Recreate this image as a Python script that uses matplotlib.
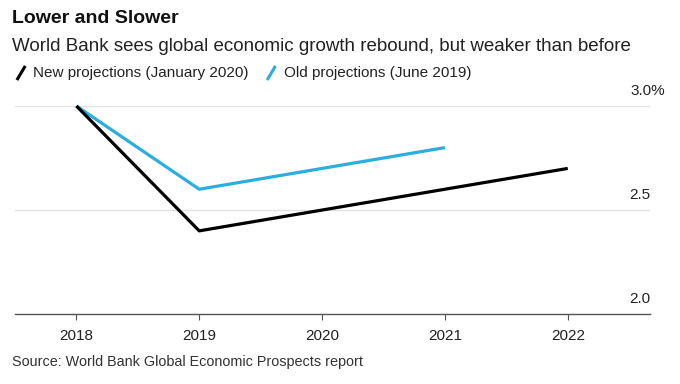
import matplotlib.pyplot as plt
import matplotlib as mpl
from matplotlib.lines import Line2D

mpl.rcParams.update({
    'font.family': ['Liberation Sans', 'DejaVu Sans'],
    'font.size': 10,
})

years_new = [2018, 2019, 2020, 2021, 2022]
growth_new = [3.0, 2.4, 2.5, 2.6, 2.7]
years_old = [2018, 2019, 2020, 2021]
growth_old = [3.0, 2.6, 2.7, 2.8]
y_ticks = [2.0, 2.5, 3.0]
y_labels = ['2.0', '2.5', '3.0%']

black = '#000000'
blue = '#2aaee0'
text_col = '#222222'

fig = plt.figure(figsize=(6.8, 3.84), dpi=100)
ax = fig.add_axes([0.022, 0.182, 0.934, 0.542])

for y in y_ticks[1:]:
    ax.axhline(y, color='#e2e2e2', lw=1.0, zorder=0)

ax.plot(years_new, growth_new, color=black, lw=2.3, clip_on=False,
        solid_capstyle='butt', zorder=3)
ax.plot(years_old, growth_old, color=blue, lw=2.3, clip_on=False,
        solid_capstyle='butt', zorder=2)

ax.set_xlim(2017.5, 2022.67)
ax.set_ylim(2.0, 3.0)
ax.set_xticks(years_new)
ax.set_xticklabels([str(y) for y in years_new], fontsize=11, color=text_col)
ax.set_yticks([])
ax.tick_params(axis='x', length=4, width=0.8, color='#555555', pad=7)

for side in ['top', 'left', 'right']:
    ax.spines[side].set_visible(False)
ax.spines['bottom'].set_color('#555555')
ax.spines['bottom'].set_linewidth(1.0)

# y labels sit above the gridlines at the right edge; '%' hangs past the edge
for y, lab in zip(y_ticks, y_labels):
    dx = 11 if lab.endswith('%') else 0
    ax.annotate(lab, xy=(1.0, y), xycoords=ax.get_yaxis_transform(),
                xytext=(dx, 6), textcoords='offset points', ha='right',
                va='bottom', fontsize=11, color=text_col)

fig.text(0.018, 0.953, 'Lower and Slower', fontsize=14, fontweight='bold',
         va='center', ha='left', color='#111111')
fig.text(0.017, 0.88, 'World Bank sees global economic growth rebound, but weaker than before',
         fontsize=13.5, va='center', ha='left', color=text_col)

# legend with slash markers
fig.add_artist(Line2D([0.026, 0.036], [0.795, 0.825], color=black, lw=2.2,
                      transform=fig.transFigure))
fig.text(0.048, 0.81, 'New projections (January 2020)', fontsize=11, va='center',
         color=text_col)
fig.add_artist(Line2D([0.394, 0.404], [0.795, 0.825], color=blue, lw=2.2,
                      transform=fig.transFigure))
fig.text(0.418, 0.81, 'Old projections (June 2019)', fontsize=11, va='center',
         color=text_col)

fig.text(0.018, 0.057, 'Source: World Bank Global Economic Prospects report',
         fontsize=10.4, va='center', ha='left', color='#333333')

fig.savefig('out.png', dpi=100)
